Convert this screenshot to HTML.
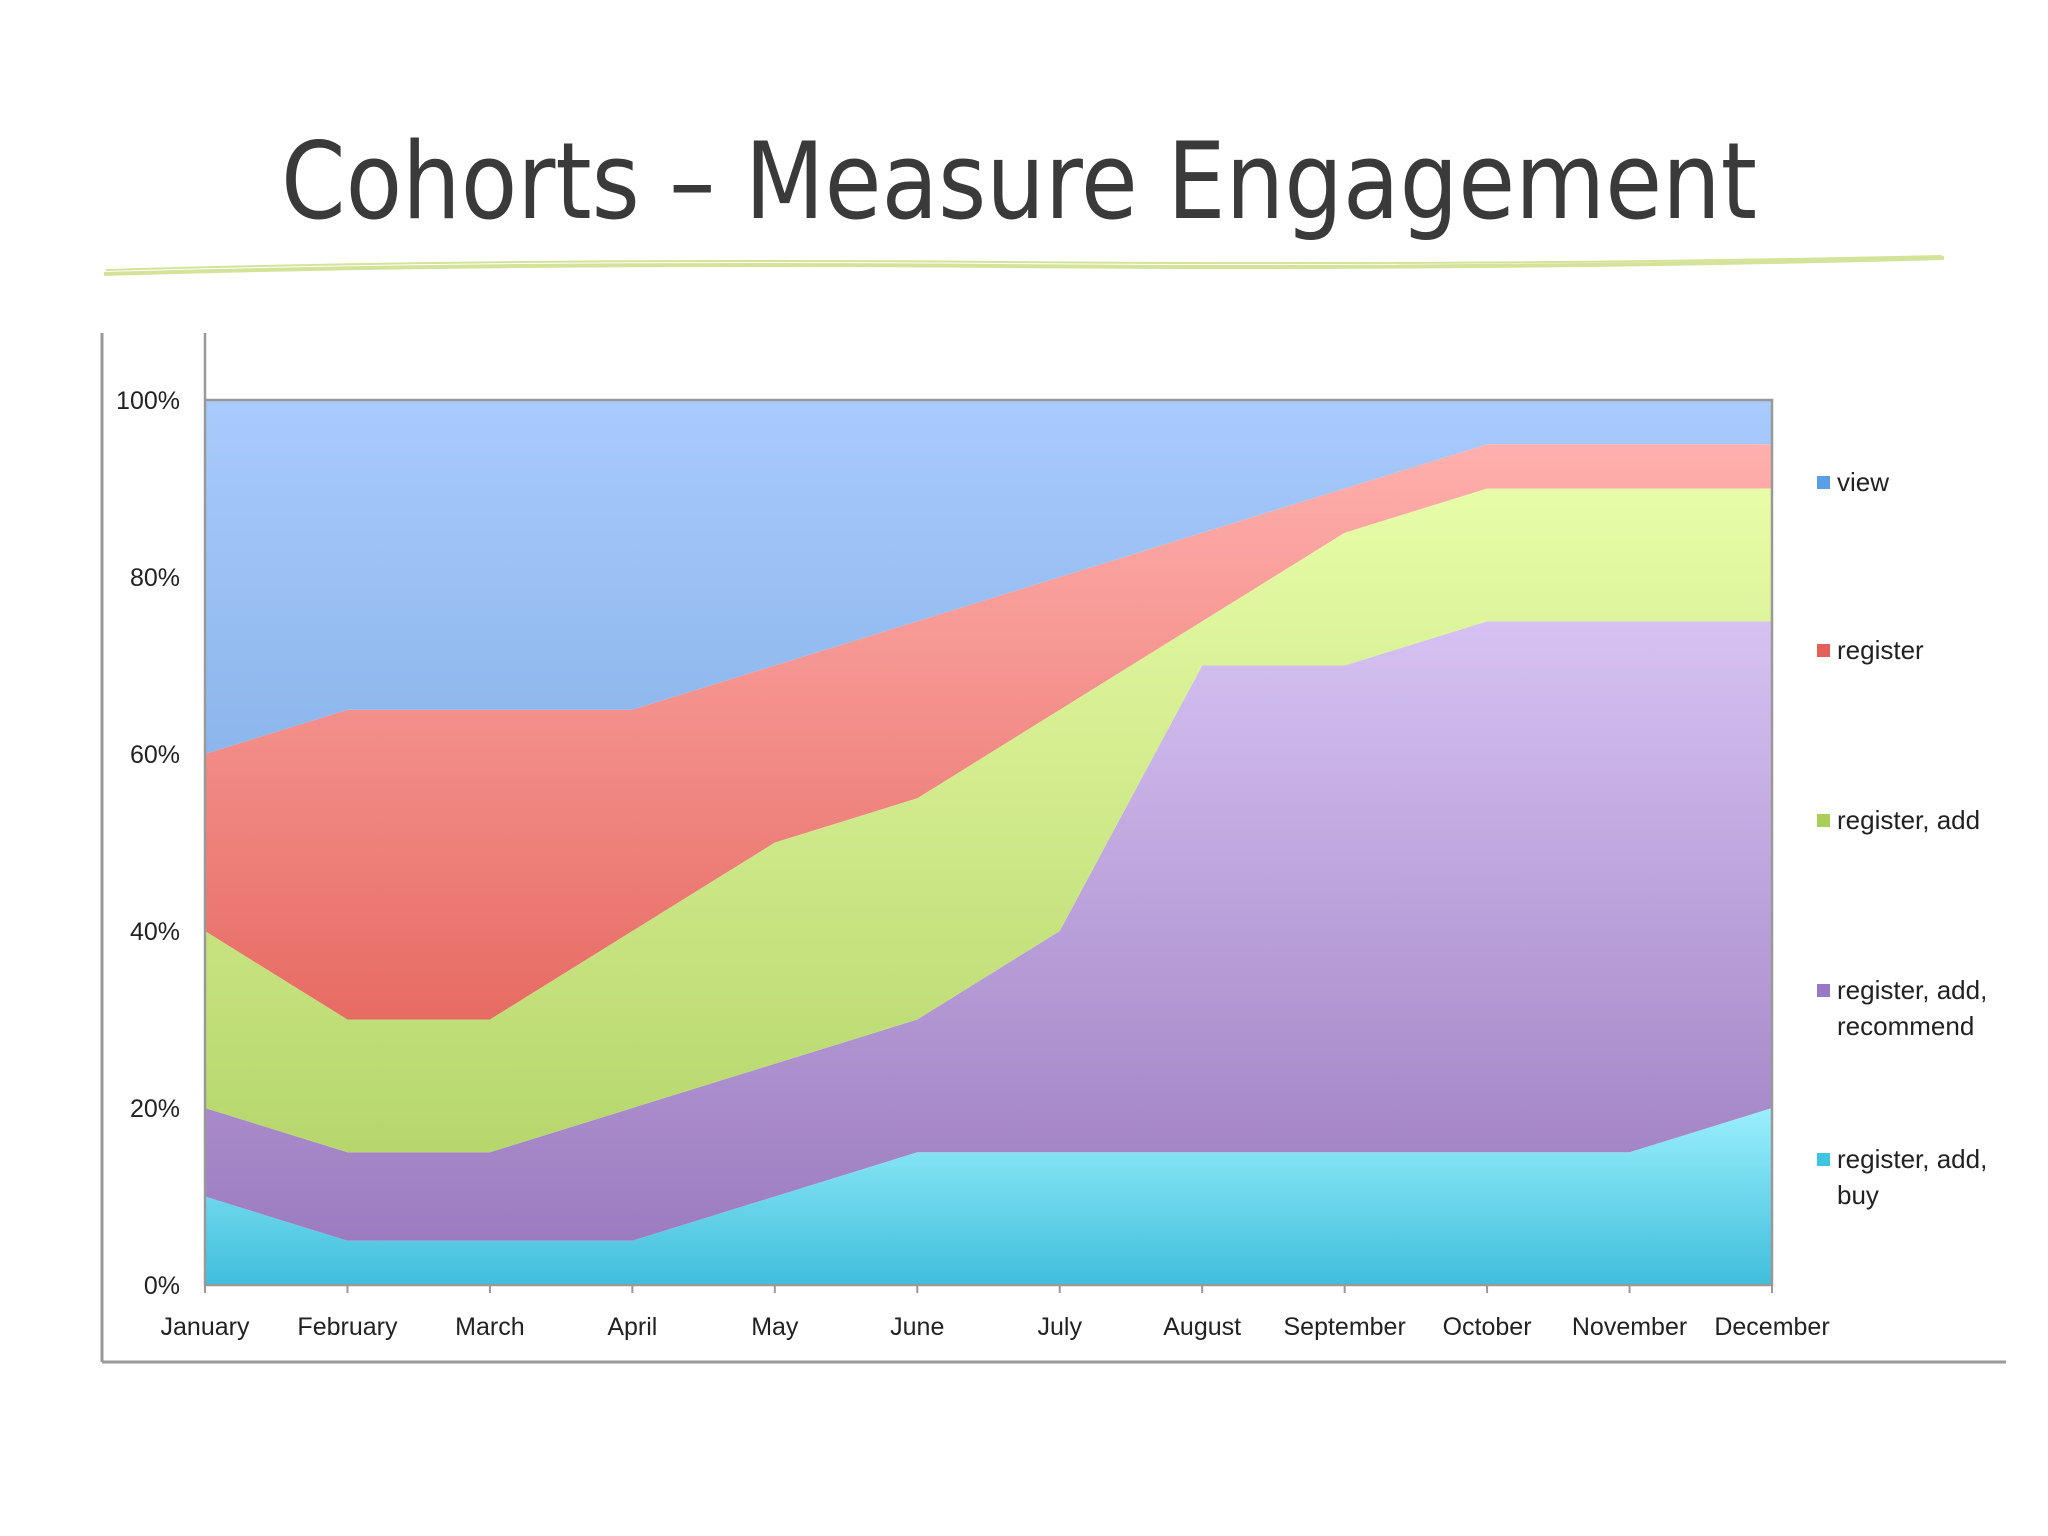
<!DOCTYPE html>
<html><head><meta charset="utf-8">
<style>
body{margin:0;background:#fff;}
svg{display:block;font-family:"Liberation Sans",sans-serif;}
</style></head>
<body>
<svg id="chart" width="2048" height="1536" viewBox="0 0 2048 1536">
<defs>
<linearGradient id="gView" gradientUnits="userSpaceOnUse" x1="0" y1="400" x2="0" y2="1285"><stop offset="0" stop-color="#a9cafc"/><stop offset="0.4" stop-color="#8cb6ec"/></linearGradient>
<linearGradient id="gReg" gradientUnits="userSpaceOnUse" x1="0" y1="440" x2="0" y2="1030"><stop offset="0" stop-color="#ffb0ae"/><stop offset="1" stop-color="#e66a62"/></linearGradient>
<linearGradient id="gAdd" gradientUnits="userSpaceOnUse" x1="0" y1="480" x2="0" y2="1160"><stop offset="0" stop-color="#e8fda8"/><stop offset="1" stop-color="#b6d66c"/></linearGradient>
<linearGradient id="gRec" gradientUnits="userSpaceOnUse" x1="0" y1="620" x2="0" y2="1240"><stop offset="0" stop-color="#d6c2f2"/><stop offset="1" stop-color="#9c7cc0"/></linearGradient>
<linearGradient id="gBuy" gradientUnits="userSpaceOnUse" x1="0" y1="1105" x2="0" y2="1285"><stop offset="0" stop-color="#9cf0fd"/><stop offset="1" stop-color="#40bedc"/></linearGradient>
</defs>
<text x="1019" y="218" text-anchor="middle" font-family="DejaVu Sans, sans-serif" font-size="106" fill="#3a3a3a" textLength="1476" lengthAdjust="spacingAndGlyphs">Cohorts – Measure Engagement</text>
<path d="M104 274 Q500 262 1000 266 T1944 258" stroke="#d3e39a" stroke-width="4" fill="none"/>
<path d="M106 270 Q500 258 1000 262 T1942 256" stroke="#d3e39a" stroke-width="2" fill="none"/>
<line x1="102" y1="333" x2="102" y2="1362" stroke="#999" stroke-width="3"/>
<line x1="102" y1="1362" x2="2006" y2="1362" stroke="#999" stroke-width="3"/>
<g id="plot"></g>
</svg>
<script>
const months=["January","February","March","April","May","June","July","August","September","October","November","December"];
const buy=[10,5,5,5,10,15,15,15,15,15,15,20];
const recommend=[10,10,10,15,15,15,25,55,55,60,60,55];
const add=[20,15,15,20,25,25,25,5,15,15,15,15];
const register=[20,35,35,25,20,20,15,10,5,5,5,5];
const view=[40,35,35,35,30,25,20,15,10,5,5,5];
const yTicks=[0,20,40,60,80,100];
const seriesNames=["view","register","register, add","register, add,|recommend","register, add,|buy"];
const X0=205,X1=1772,Y0=1285,Y100=400;
const xs=i=>X0+(X1-X0)*i/(months.length-1);
const ys=v=>Y0-(Y0-Y100)*v/100;
const NS="http://www.w3.org/2000/svg";
const g=document.getElementById('plot');
function mk(t,a){const e=document.createElementNS(NS,t);for(const k in a)e.setAttribute(k,a[k]);return e;}
const layers=[[buy,"url(#gBuy)","area-buy"],[recommend,"url(#gRec)","area-recommend"],[add,"url(#gAdd)","area-add"],[register,"url(#gReg)","area-register"],[view,"url(#gView)","area-view"]];
let base=months.map(()=>0);
layers.forEach(([vals,fill,name])=>{
  const top=base.map((b,i)=>b+vals[i]);
  let d="M"+months.map((m,i)=>xs(i)+","+ys(top[i])).join(" L");
  for(let i=months.length-1;i>=0;i--)d+=" L"+xs(i)+","+ys(base[i]);
  const p=mk('path',{d:d+"Z",fill:fill});
  
  
  g.appendChild(p);
  base=top;
});
const ax=mk('path',{d:`M${X0},333 L${X0},${Y0} L${X1},${Y0} L${X1},${Y100} L${X0},${Y100}`,stroke:"#999","stroke-width":2.5,fill:"none"});


g.appendChild(ax);
yTicks.forEach(v=>{
  const t=mk('text',{x:180,y:ys(v)+9,"text-anchor":"end","font-size":25,fill:"#222"});
  t.textContent=v+"%";
  
  
  g.appendChild(t);
});
months.forEach((m,i)=>{
  const tk=mk('line',{x1:xs(i),y1:Y0,x2:xs(i),y2:Y0+8,stroke:"#999","stroke-width":2});
  
  
  g.appendChild(tk);
  const t=mk('text',{x:xs(i),y:1335,"text-anchor":"middle","font-size":25,fill:"#222"});
  t.textContent=m;
  
  
  g.appendChild(t);
});
const legCols=["#5a9ee6","#e4605a","#a8d058","#9a78c8","#40c4e0"];
const legY=[490,658,828,998,1167];
seriesNames.forEach((n,i)=>{
  const r=mk('rect',{x:1817,y:legY[i]-14,width:13,height:13,fill:legCols[i]});
  
  
  g.appendChild(r);
  n.split("|").forEach((line,j)=>{
    const t=mk('text',{x:1837,y:legY[i]+j*36+1,"font-size":26,fill:"#222"});
    t.textContent=line;
    
    
    g.appendChild(t);
  });
});
</script>
</body></html>
